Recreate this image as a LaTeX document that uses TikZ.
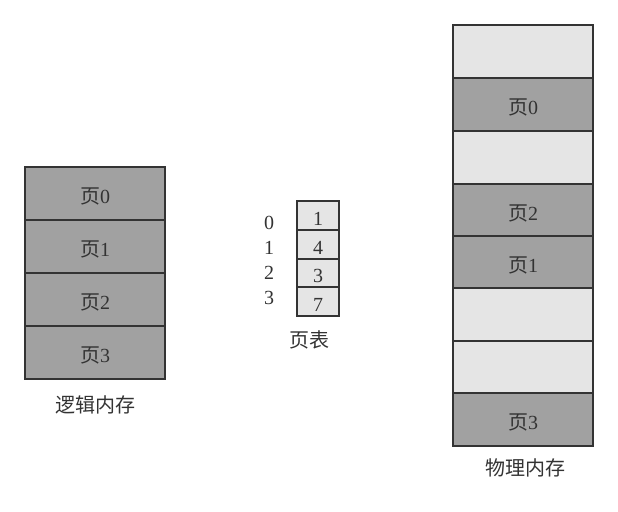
\documentclass[tikz,border=0pt]{standalone}
\usepackage{fontspec}
\setmainfont{Liberation Serif}
\newfontfamily\cjk{Noto Sans CJK SC}
\newcommand{\pgtxt}[1]{{\cjk 页}#1}
\begin{document}
\begin{tikzpicture}[x=1pt,y=-1pt,
  cellbase/.style={minimum width=140pt,font=\fontsize{20}{20}\selectfont,text=black!80,text height=20pt,text depth=0pt},
  pg/.style={cellbase,fill=black!37,minimum height=#1},
  emp/.style={cellbase,fill=black!10,minimum height=#1},
  pt/.style={fill=black!10,minimum width=42pt,minimum height=#1,font=\fontsize{20}{20}\selectfont,text=black!80,text height=19.5pt,text depth=0pt},
  border/.style={draw=black!80,line width=1.8pt},
  idx/.style={font=\fontsize{20}{20}\selectfont,text=black!80},
  lbl/.style={font=\cjk\fontsize{20}{20}\selectfont,text=black!80}]
\useasboundingbox (0,0) rectangle (618,511);
% logical memory
\node[pg=53pt] (l0) at (95,193.5) {\pgtxt{0}};
\node[pg=53pt] (l1) at (95,246.5) {\pgtxt{1}};
\node[pg=53pt] (l2) at (95,299.5) {\pgtxt{2}};
\node[pg=53pt] (l3) at (95,352.5) {\pgtxt{3}};
\node[lbl] (lname) at (95,405) {逻辑内存};
% page table
\node[pt=29pt] (t0) at (318,215.5) {1};
\node[pt=29pt] (t1) at (318,244.5) {4};
\node[pt=28pt] (t2) at (318,273) {3};
\node[pt=29pt] (t3) at (318,301.5) {7};
\node[idx] (i0) at (269,223) {0};
\node[idx] (i1) at (269,248) {1};
\node[idx] (i2) at (269,273) {2};
\node[idx] (i3) at (269,298) {3};
\node[lbl] (tname) at (309,340) {页表};
% physical memory
\node[emp=53pt] (p0) at (523,51.5) {};
\node[pg=53pt] (p1) at (523,104.5) {\pgtxt{0}};
\node[emp=53pt] (p2) at (523,157.5) {};
\node[pg=52pt] (p3) at (523,210) {\pgtxt{2}};
\node[pg=52pt] (p4) at (523,262) {\pgtxt{1}};
\node[emp=53pt] (p5) at (523,314.5) {};
\node[emp=52pt] (p6) at (523,367) {};
\node[pg=53pt] (p7) at (523,419.5) {\pgtxt{3}};
\node[lbl] (pname) at (525,468) {物理内存};
% borders
\foreach \n in {l0,l1,l2,l3,t0,t1,t2,t3,p0,p1,p2,p3,p4,p5,p6,p7}
  \draw[border] (\n.north west) rectangle (\n.south east);
\end{tikzpicture}
\end{document}
